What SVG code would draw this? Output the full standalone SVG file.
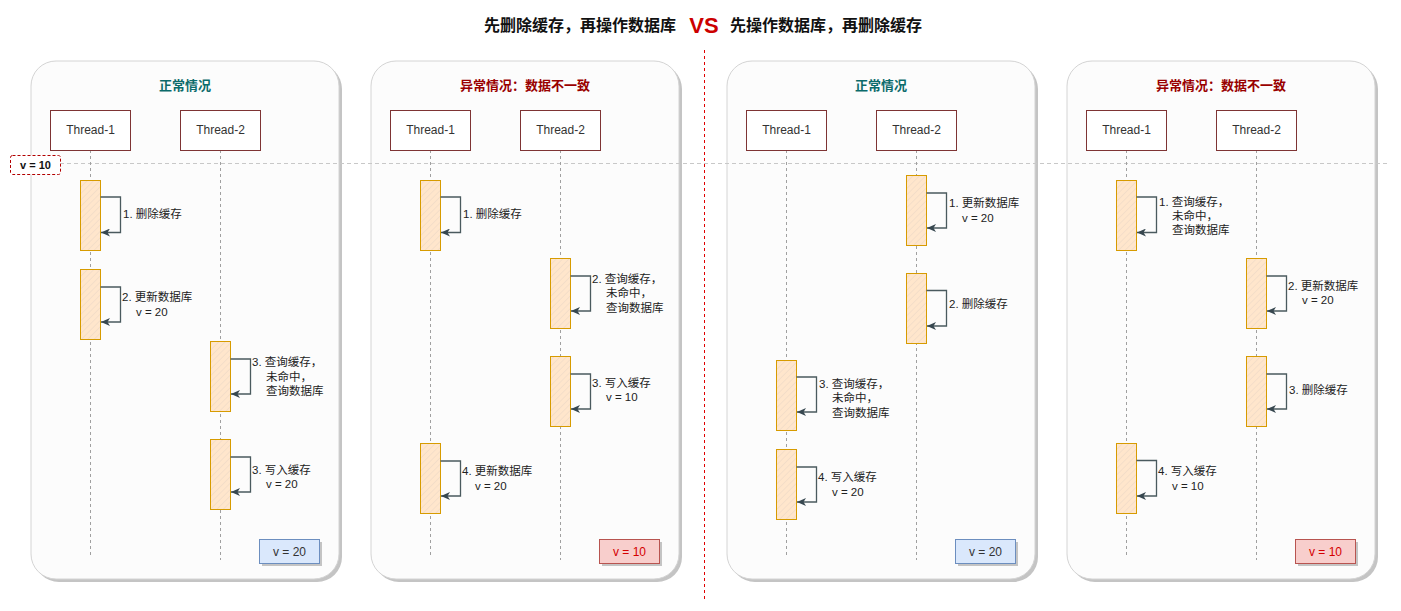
<svg xmlns="http://www.w3.org/2000/svg" width="1401" height="611" viewBox="0 0 1401 611">
<defs>
<pattern id="hatch" patternUnits="userSpaceOnUse" width="4.5" height="4.5" patternTransform="rotate(45)">
<rect width="4.5" height="4.5" fill="#ffe6cc"/>
<line x1="0" y1="0" x2="0" y2="4.5" stroke="#eed9c6" stroke-width="1.2"/>
</pattern>
<marker id="arr" markerWidth="10" markerHeight="8" refX="10" refY="4" orient="auto" markerUnits="userSpaceOnUse" viewBox="0 0 10 8">
<path d="M10,4 L1,0 L3.5,4 L1,8 Z" fill="#37474f"/>
</marker>
<style>
text{font-family:"Liberation Sans","Noto Sans CJK SC",sans-serif;}
.panel{fill:#fcfcfc;stroke:#d4d4d4;stroke-width:1;}
.pshadow{fill:#c4c4c4;}
.ttl{font-size:13px;font-weight:bold;text-anchor:middle;}
.ok{fill:#0b6b6b;}
.bad{fill:#990000;}
.thr{fill:#ffffff;stroke:#7e3434;stroke-width:1;}
.thrt{font-size:12px;fill:#333333;text-anchor:middle;}
.life{stroke:#a0a0a0;stroke-width:1;stroke-dasharray:3 3;fill:none;}
.act{fill:url(#hatch);stroke:#d79b00;stroke-width:1;}
.loop{fill:none;stroke:#4a5a5e;stroke-width:1.3;}
.lbl{font-size:11.5px;fill:#222222;}
.vshadow{fill:#c4c4c4;}
.vblue{fill:#dae8fc;stroke:#6c8ebf;stroke-width:1;}
.vred{fill:#f8cecc;stroke:#b85450;stroke-width:1;}
.vt{font-size:12px;text-anchor:middle;}
</style>
</defs>
<rect width="1401" height="611" fill="#ffffff"/>

<g id="title">
<text x="580" y="31" font-size="16" font-weight="bold" fill="#111111" text-anchor="middle">先删除缓存，再操作数据库</text>
<text x="704" y="33" font-size="22" font-weight="bold" fill="#cc0000" text-anchor="middle">VS</text>
<text x="826" y="31" font-size="16" font-weight="bold" fill="#111111" text-anchor="middle">先操作数据库，再删除缓存</text>
</g>

<g id="divider">
<line x1="704.5" y1="50" x2="704.5" y2="602" stroke="#e00000" stroke-width="1" stroke-dasharray="3 3"/>
</g>

<!-- Panels -->
<g id="panel1">
<rect class="pshadow" x="34" y="64" width="308" height="518" rx="25"/>
<rect class="panel" x="31" y="61" width="308" height="518" rx="25"/>
<text class="ttl ok" x="185" y="90">正常情况</text>
</g>
<g id="panel2">
<rect class="pshadow" x="374" y="64" width="308" height="518" rx="25"/>
<rect class="panel" x="371" y="61" width="308" height="518" rx="25"/>
<text class="ttl bad" x="525" y="90">异常情况：数据不一致</text>
</g>
<g id="panel3">
<rect class="pshadow" x="730" y="64" width="308" height="518" rx="25"/>
<rect class="panel" x="727" y="61" width="308" height="518" rx="25"/>
<text class="ttl ok" x="881" y="90">正常情况</text>
</g>
<g id="panel4">
<rect class="pshadow" x="1070" y="64" width="308" height="518" rx="25"/>
<rect class="panel" x="1067" y="61" width="308" height="518" rx="25"/>
<text class="ttl bad" x="1221" y="90">异常情况：数据不一致</text>
</g>

<g id="v10-line">
<line x1="60" y1="163.5" x2="1390" y2="163.5" stroke="#c8c8c8" stroke-width="1" stroke-dasharray="4 3"/>
</g>
<g id="v10-box">
<rect x="10.5" y="155.5" width="50" height="19" rx="2" fill="#ffffff" stroke="#b20000" stroke-width="1" stroke-dasharray="3 2"/>
<text x="35.5" y="169" font-size="11" font-weight="bold" fill="#111111" text-anchor="middle">v = 10</text>
</g>

<!-- Threads -->
<g id="p1-thread1"><line class="life" x1="90.5" y1="150" x2="90.5" y2="558"/><rect class="thr" x="50.5" y="110.5" width="80" height="40"/><text class="thrt" x="90.5" y="134">Thread-1</text></g>
<g id="p1-thread2"><line class="life" x1="220.5" y1="150" x2="220.5" y2="560"/><rect class="thr" x="180.5" y="110.5" width="80" height="40"/><text class="thrt" x="220.5" y="134">Thread-2</text></g>
<g id="p2-thread1"><line class="life" x1="430.5" y1="150" x2="430.5" y2="558"/><rect class="thr" x="390.5" y="110.5" width="80" height="40"/><text class="thrt" x="430.5" y="134">Thread-1</text></g>
<g id="p2-thread2"><line class="life" x1="560.5" y1="150" x2="560.5" y2="560"/><rect class="thr" x="520.5" y="110.5" width="80" height="40"/><text class="thrt" x="560.5" y="134">Thread-2</text></g>
<g id="p3-thread1"><line class="life" x1="786.5" y1="150" x2="786.5" y2="558"/><rect class="thr" x="746.5" y="110.5" width="80" height="40"/><text class="thrt" x="786.5" y="134">Thread-1</text></g>
<g id="p3-thread2"><line class="life" x1="916.5" y1="150" x2="916.5" y2="560"/><rect class="thr" x="876.5" y="110.5" width="80" height="40"/><text class="thrt" x="916.5" y="134">Thread-2</text></g>
<g id="p4-thread1"><line class="life" x1="1126.5" y1="150" x2="1126.5" y2="558"/><rect class="thr" x="1086.5" y="110.5" width="80" height="40"/><text class="thrt" x="1126.5" y="134">Thread-1</text></g>
<g id="p4-thread2"><line class="life" x1="1256.5" y1="150" x2="1256.5" y2="560"/><rect class="thr" x="1216.5" y="110.5" width="80" height="40"/><text class="thrt" x="1256.5" y="134">Thread-2</text></g>

<!-- Activations -->
<g id="p1-act1"><rect class="act" x="80.5" y="180.5" width="20" height="70"/></g>
<g id="p1-act2"><rect class="act" x="80.5" y="269.5" width="20" height="70"/></g>
<g id="p1-act3"><rect class="act" x="210.5" y="341.5" width="20" height="70"/></g>
<g id="p1-act4"><rect class="act" x="210.5" y="439.5" width="20" height="70"/></g>
<g id="p2-act1"><rect class="act" x="420.5" y="180.5" width="20" height="70"/></g>
<g id="p2-act2"><rect class="act" x="550.5" y="258.5" width="20" height="70"/></g>
<g id="p2-act3"><rect class="act" x="550.5" y="356.5" width="20" height="70"/></g>
<g id="p2-act4"><rect class="act" x="420.5" y="443.5" width="20" height="70"/></g>
<g id="p3-act1"><rect class="act" x="906.5" y="175.5" width="20" height="70"/></g>
<g id="p3-act2"><rect class="act" x="906.5" y="273.5" width="20" height="70"/></g>
<g id="p3-act3"><rect class="act" x="776.5" y="360.5" width="20" height="70"/></g>
<g id="p3-act4"><rect class="act" x="776.5" y="449.5" width="20" height="70"/></g>
<g id="p4-act1"><rect class="act" x="1116.5" y="180.5" width="20" height="70"/></g>
<g id="p4-act2"><rect class="act" x="1246.5" y="258.5" width="20" height="70"/></g>
<g id="p4-act3"><rect class="act" x="1246.5" y="356.5" width="20" height="70"/></g>
<g id="p4-act4"><rect class="act" x="1116.5" y="443.5" width="20" height="70"/></g>

<!-- Connectors (self messages) -->
<g id="connectors">
<path class="loop" marker-end="url(#arr)" d="M100.5,197 H120.5 V232.5 H101"/>
<path class="loop" marker-end="url(#arr)" d="M100.5,287 H120.5 V322 H101"/>
<path class="loop" marker-end="url(#arr)" d="M230.5,359 H250.5 V394 H231"/>
<path class="loop" marker-end="url(#arr)" d="M230.5,457 H250.5 V492 H231"/>
<path class="loop" marker-end="url(#arr)" d="M440.5,197 H460.5 V232.5 H441"/>
<path class="loop" marker-end="url(#arr)" d="M570.5,276 H590.5 V311 H571"/>
<path class="loop" marker-end="url(#arr)" d="M570.5,374 H590.5 V409 H571"/>
<path class="loop" marker-end="url(#arr)" d="M440.5,461 H460.5 V496 H441"/>
<path class="loop" marker-end="url(#arr)" d="M926.5,193 H946.5 V228 H927"/>
<path class="loop" marker-end="url(#arr)" d="M926.5,290.5 H946.5 V326 H927"/>
<path class="loop" marker-end="url(#arr)" d="M796.5,377 H816.5 V412 H797"/>
<path class="loop" marker-end="url(#arr)" d="M796.5,467 H816.5 V502 H797"/>
<path class="loop" marker-end="url(#arr)" d="M1136.5,197 H1156.5 V232.5 H1137"/>
<path class="loop" marker-end="url(#arr)" d="M1266.5,276 H1286.5 V311 H1267"/>
<path class="loop" marker-end="url(#arr)" d="M1266.5,374 H1286.5 V409 H1267"/>
<path class="loop" marker-end="url(#arr)" d="M1136.5,460.5 H1156.5 V496 H1137"/>
</g>

<!-- Labels -->
<g id="labels">
<text class="lbl" x="123" y="218">1. 删除缓存</text>
<text class="lbl" x="122" y="301">2. 更新数据库</text>
<text class="lbl" x="136" y="316">v = 20</text>
<text class="lbl" x="252" y="366">3. 查询缓存，</text>
<text class="lbl" x="266" y="381">未命中，</text>
<text class="lbl" x="266" y="395">查询数据库</text>
<text class="lbl" x="252" y="474">3. 写入缓存</text>
<text class="lbl" x="266" y="488">v = 20</text>

<text class="lbl" x="463" y="218">1. 删除缓存</text>
<text class="lbl" x="592" y="283">2. 查询缓存，</text>
<text class="lbl" x="606" y="297">未命中，</text>
<text class="lbl" x="606" y="312">查询数据库</text>
<text class="lbl" x="592" y="387">3. 写入缓存</text>
<text class="lbl" x="606" y="401">v = 10</text>
<text class="lbl" x="462" y="475">4. 更新数据库</text>
<text class="lbl" x="475" y="490">v = 20</text>

<text class="lbl" x="949" y="207">1. 更新数据库</text>
<text class="lbl" x="962" y="222">v = 20</text>
<text class="lbl" x="949" y="308">2. 删除缓存</text>
<text class="lbl" x="819" y="388">3. 查询缓存，</text>
<text class="lbl" x="832" y="402">未命中，</text>
<text class="lbl" x="832" y="417">查询数据库</text>
<text class="lbl" x="818" y="481">4. 写入缓存</text>
<text class="lbl" x="832" y="496">v = 20</text>

<text class="lbl" x="1159" y="206">1. 查询缓存，</text>
<text class="lbl" x="1172" y="220">未命中，</text>
<text class="lbl" x="1172" y="234">查询数据库</text>
<text class="lbl" x="1288" y="290">2. 更新数据库</text>
<text class="lbl" x="1302" y="304">v = 20</text>
<text class="lbl" x="1289" y="394">3. 删除缓存</text>
<text class="lbl" x="1158" y="475">4. 写入缓存</text>
<text class="lbl" x="1172" y="490">v = 10</text>
</g>

<!-- Result boxes -->
<g id="p1-result"><rect class="vshadow" x="262" y="542" width="60" height="24"/><rect class="vblue" x="259.5" y="539.5" width="60" height="24"/><text class="vt" x="289.5" y="556" fill="#333333">v = 20</text></g>
<g id="p2-result"><rect class="vshadow" x="602" y="542" width="60" height="24"/><rect class="vred" x="599.5" y="539.5" width="60" height="24"/><text class="vt" x="629.5" y="556" fill="#d40000">v = 10</text></g>
<g id="p3-result"><rect class="vshadow" x="958" y="542" width="60" height="24"/><rect class="vblue" x="955.5" y="539.5" width="60" height="24"/><text class="vt" x="985.5" y="556" fill="#333333">v = 20</text></g>
<g id="p4-result"><rect class="vshadow" x="1298" y="542" width="60" height="24"/><rect class="vred" x="1295.5" y="539.5" width="60" height="24"/><text class="vt" x="1325.5" y="556" fill="#d40000">v = 10</text></g>
</svg>
